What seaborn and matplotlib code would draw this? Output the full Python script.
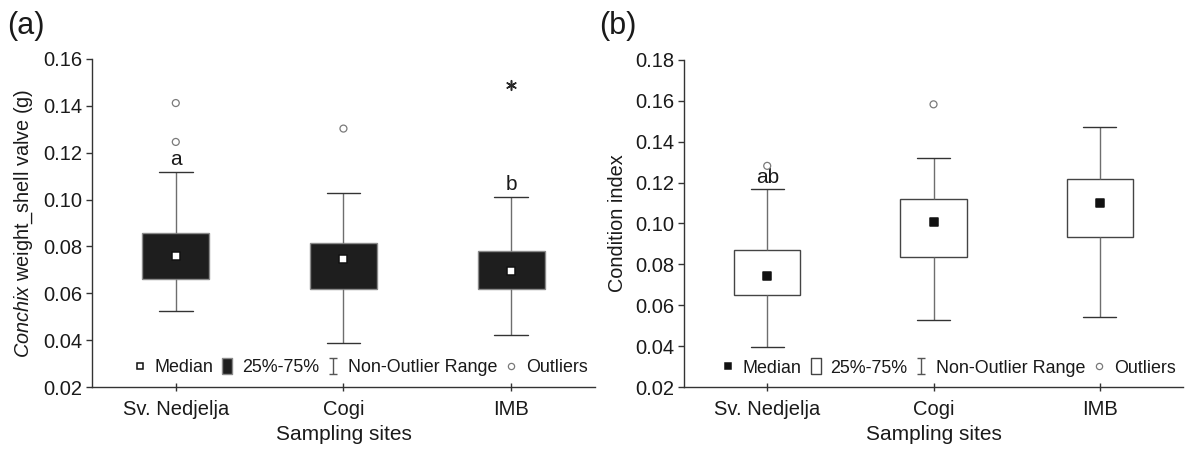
#Box plots of shell valve weight and condition index of Conchix at three sampling sites.

#Importing libraries.
import pandas as pd
import matplotlib
matplotlib.use("Agg")
import matplotlib.pyplot as plt
from matplotlib.lines import Line2D
from matplotlib.path import Path
import seaborn as sns

#Sampling sites.
sites = ['Sv. Nedjelja', 'Cogi', 'IMB']

#Panel (a): shell valve weight (g), box statistics.
shell_low = [0.0525, 0.0388, 0.0424]
shell_q1 = [0.0659, 0.0619, 0.0619]
shell_med = [0.0759, 0.0745, 0.0695]
shell_q3 = [0.0859, 0.0816, 0.0782]
shell_high = [0.1119, 0.1027, 0.1010]
shell_out_sites = ['Sv. Nedjelja', 'Sv. Nedjelja', 'Cogi']
shell_out_vals = [0.1412, 0.1246, 0.1303]
shell_ext_sites = ['IMB']
shell_ext_vals = [0.1487]
shell_letters = {'Sv. Nedjelja': 'a', 'IMB': 'b'}

#Panel (b): condition index.
ci_low = [0.0398, 0.0527, 0.0543]
ci_q1 = [0.0652, 0.0837, 0.0935]
ci_med = [0.0742, 0.1005, 0.1101]
ci_q3 = [0.0869, 0.1121, 0.1219]
ci_high = [0.1168, 0.1322, 0.1470]
ci_out_sites = ['Sv. Nedjelja', 'Cogi']
ci_out_vals = [0.1282, 0.1583]
ci_letters = {'Sv. Nedjelja': 'ab'}

legend_labels = ['Median', '25%-75%', 'Non-Outlier Range', 'Outliers']

sns.set_style('ticks')
plt.rcParams['font.family'] = ['Liberation Sans', 'DejaVu Sans']
plt.rcParams['mathtext.fontset'] = 'custom'
plt.rcParams['mathtext.rm'] = 'Liberation Sans'
plt.rcParams['mathtext.it'] = 'Liberation Sans:italic'
plt.rcParams['text.color'] = '#1a1a1a'
plt.rcParams['axes.labelcolor'] = '#1a1a1a'
plt.rcParams['xtick.color'] = '#333333'
plt.rcParams['ytick.color'] = '#333333'
plt.rcParams['xtick.labelcolor'] = '#1a1a1a'
plt.rcParams['ytick.labelcolor'] = '#1a1a1a'


def long_table(low, q1, med, q3, high):
    #Five values per site: with whis=(0, 100) the box and whiskers land on them exactly.
    rows = []
    for i, s in enumerate(sites):
        for v in (low[i], q1[i], med[i], q3[i], high[i]):
            rows.append({'site': s, 'value': v})
    return pd.DataFrame(rows)


#I-beam marker for the "Non-Outlier Range" legend entry.
ibeam = Path([(-0.45, 1), (0.45, 1), (0, 1), (0, -1), (-0.45, -1), (0.45, -1)],
             [Path.MOVETO, Path.LINETO, Path.MOVETO, Path.LINETO, Path.MOVETO, Path.LINETO])
rect = [(-0.55, -1), (0.55, -1), (0.55, 1), (-0.55, 1), (-0.55, -1)]


def draw_panel(ax, table, med, out_sites, out_vals, letters, high, box_face, box_edge,
               med_face, med_edge, ylim, ylabel, ext_sites=None, ext_vals=None):
    sns.boxplot(data=table, x='site', y='value', order=sites, ax=ax, width=0.4,
                whis=(0, 100), color=box_face, saturation=1, linecolor=box_edge,
                linewidth=1, showfliers=False,
                medianprops={'linewidth': 0},
                whiskerprops={'color': '#6e6e6e'},
                capprops={'color': '#333333'})
    sns.stripplot(x=sites, y=med, order=sites, ax=ax, jitter=False, marker='s', size=5.5,
                  color=med_face, edgecolor=med_edge, linewidth=1.1, zorder=5)
    sns.stripplot(x=out_sites, y=out_vals, order=sites, ax=ax, jitter=False, marker='o',
                  size=5, color='white', facecolor='none', edgecolor='#7a7a7a',
                  linewidth=0.9, zorder=5)
    if ext_sites:
        sns.stripplot(x=ext_sites, y=ext_vals, order=sites, ax=ax, jitter=False,
                      marker=(6, 2, 0), size=7, color='#2a2a2a', linewidth=1.1, zorder=5)
    for s, txt in letters.items():
        ax.text(sites.index(s), high[sites.index(s)] + 0.0012, txt, ha='center',
                va='bottom', fontsize=15)

    ax.set_xlim(-0.5, 2.5)
    ax.set_ylim(*ylim)
    ax.set_yticks([round(v * 0.02, 2) for v in range(1, int(round(ylim[1] / 0.02)) + 1)])
    ax.yaxis.set_major_formatter(plt.FormatStrFormatter('%.2f'))
    ax.set_xlabel('Sampling sites', fontsize=15, labelpad=5)
    ax.set_ylabel(ylabel, fontsize=14.3, labelpad=6)
    ax.tick_params(axis='y', direction='out', length=4, width=1, labelsize=14.5, pad=3)
    ax.tick_params(axis='x', direction='inout', length=6, width=1, labelsize=14.5, pad=6)
    sns.despine(ax=ax)
    for side in ('left', 'bottom'):
        ax.spines[side].set_color('#333333')
        ax.spines[side].set_linewidth(1)

    handles = [
        Line2D([], [], linestyle='none', marker='s', markersize=5, markerfacecolor=med_face,
               markeredgecolor=med_edge, markeredgewidth=1.1),
        Line2D([], [], linestyle='none', marker=rect, markersize=12, markerfacecolor=box_face,
               markeredgecolor=box_edge, markeredgewidth=1),
        Line2D([], [], linestyle='none', marker=ibeam, markersize=12, markerfacecolor='none',
               markeredgecolor='#555555', markeredgewidth=1),
        Line2D([], [], linestyle='none', marker='o', markersize=4.5, markerfacecolor='none',
               markeredgecolor='#7a7a7a', markeredgewidth=0.9),
    ]
    ax.legend(handles, legend_labels, ncol=4, loc='center right',
              bbox_to_anchor=(0.985, 0.058), frameon=False, fontsize=12.9,
              handlelength=0.8, handletextpad=0.4, columnspacing=0.4, borderpad=0,
              borderaxespad=0)


fig = plt.figure(figsize=(11.88, 4.51), dpi=100)
ax1 = fig.add_axes([0.0774, 0.1419, 0.4234, 0.7273])
ax2 = fig.add_axes([0.5758, 0.1419, 0.4200, 0.7251])

draw_panel(ax1, long_table(shell_low, shell_q1, shell_med, shell_q3, shell_high), shell_med,
           shell_out_sites, shell_out_vals, shell_letters, shell_high,
           box_face='#1e1e1e', box_edge='#8a8a8a', med_face='white', med_edge='#111111',
           ylim=(0.02, 0.16), ylabel=r'$\it{Conchix}$ weight_shell valve (g)',
           ext_sites=shell_ext_sites, ext_vals=shell_ext_vals)

draw_panel(ax2, long_table(ci_low, ci_q1, ci_med, ci_q3, ci_high), ci_med,
           ci_out_sites, ci_out_vals, ci_letters, ci_high,
           box_face='white', box_edge='#444444', med_face='#111111', med_edge='#111111',
           ylim=(0.02, 0.18), ylabel='Condition index')

fig.text(0.006, 0.942, '(a)', fontsize=22, va='center')
fig.text(0.504, 0.942, '(b)', fontsize=22, va='center')

fig.savefig('out.png', dpi=100)
